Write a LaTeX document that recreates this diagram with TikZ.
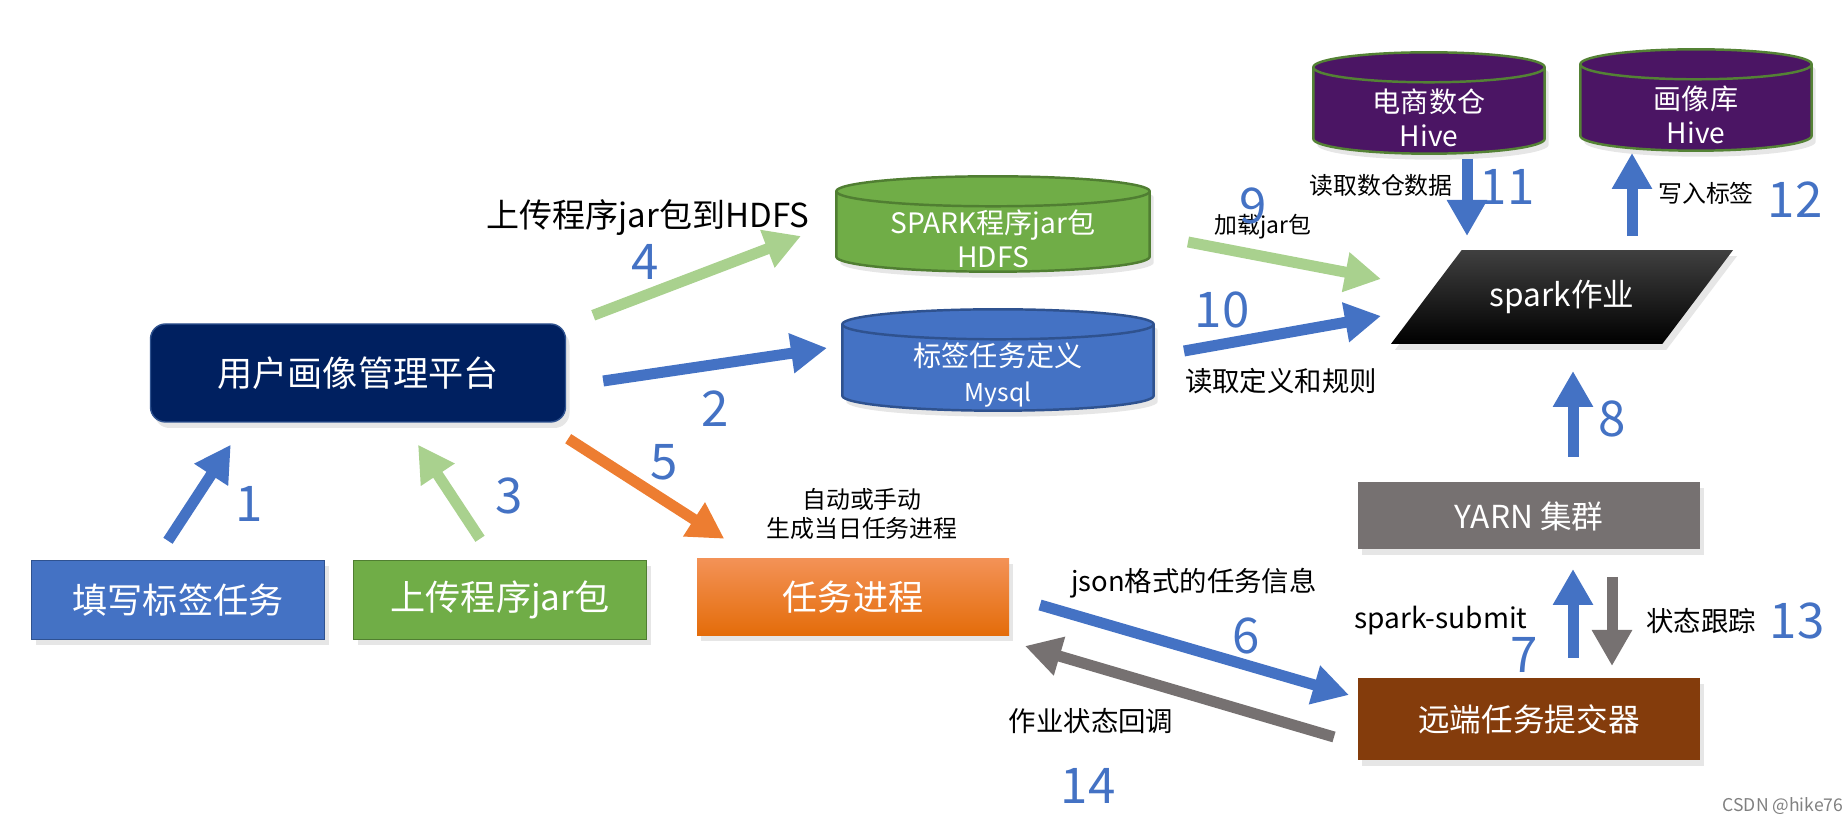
\documentclass[tikz,border=0pt]{standalone}
\usepackage{fontspec}
\setmainfont{Noto Sans CJK SC}
\usepackage{xcolor}
\usetikzlibrary{
  arrows.meta,
  positioning,
  shapes.geometric,
  calc,
  shadows,
  backgrounds,
}
\definecolor{navybox}{HTML}{002060}
\definecolor{navyline}{HTML}{2F528F}
\definecolor{bluebox}{HTML}{4472C4}
\definecolor{blueline}{HTML}{2F528F}
\definecolor{greenbox}{HTML}{70AD47}
\definecolor{greenline}{HTML}{507E32}
\definecolor{lightgreen}{HTML}{A9D18E}
\definecolor{orangearr}{HTML}{ED7D31}
\definecolor{orangetop}{HTML}{F39257}
\definecolor{orangebot}{HTML}{E46C0A}
\definecolor{greybox}{HTML}{767171}
\definecolor{brownbox}{HTML}{843C0C}
\definecolor{purplebox}{HTML}{4B1564}
\definecolor{hiveline}{HTML}{548235}

\begin{document}
\begin{tikzpicture}[
    x=0.1mm, y=-0.1mm,
    box/.style={rectangle, inner sep=0pt, text=white, font=\fontsize{10}{12}\selectfont,
      drop shadow={shadow xshift=0.4mm, shadow yshift=-0.6mm, opacity=0.2}},
    db/.style={rectangle, inner sep=0pt, text=white, align=center,
      font=\fontsize{8}{9.7}\selectfont},
    num/.style={text=bluebox, font=\fontsize{14}{16}\selectfont},
    lbl/.style={font=\fontsize{7.8}{9.6}\selectfont, align=center},
    arr/.style={line width=1.1mm, -{Triangle[length=3.6mm,width=3.8mm]}},
  ]
  \useasboundingbox (0,0) rectangle (1848,820);

  % boxes
  \node[box, fill=navybox, draw=navyline, rounded corners=1.5mm,
    minimum width=41.5mm, minimum height=9.8mm] (plat) at (358,373) {用户画像管理平台};
  \node[box, fill=bluebox, draw=blueline, minimum width=29.3mm, minimum height=7.9mm]
    (tagtask) at (178,600) {填写标签任务};
  \node[box, fill=greenbox, draw=greenline, minimum width=29.3mm, minimum height=7.9mm]
    (jarup) at (500,600) {上传程序jar包};
  \node[box, top color=orangetop, bottom color=orangebot, minimum width=31.2mm,
    minimum height=7.7mm] (taskproc) at (853,597) {任务进程};
  \node[box, fill=greybox, minimum width=34.2mm, minimum height=6.7mm,
    font=\fontsize{9}{11}\selectfont] (yarn) at (1529,516) {YARN 集群};
  \node[box, fill=brownbox, minimum width=34.2mm, minimum height=8.2mm,
    font=\fontsize{9}{11}\selectfont] (submitter) at (1529,719) {远端任务提交器};
  \node[trapezium, trapezium left angle=53, trapezium right angle=127,
    trapezium stretches body, top color=black!75, middle color=black, bottom color=black,
    text=white, inner xsep=0pt, inner ysep=3mm, minimum width=34.2mm, minimum height=9.3mm,
    font=\fontsize{9}{11}\selectfont,
    drop shadow={shadow xshift=0.4mm, shadow yshift=-0.6mm, opacity=0.2}]
    (spark) at (1562,297) {spark作业};

  % databases (text part, cylinder drawn behind)
  \node[db, minimum width=31.2mm, minimum height=6.4mm] (hdfs) at (993,239) {SPARK程序jar包\\HDFS};
  \node[db, minimum width=31mm, minimum height=7mm] (mysql) at (998,375)
    {标签任务定义\\{\fontsize{7}{8}\selectfont Mysql}};
  \node[db, minimum width=23mm, minimum height=7mm] (dwhive) at (1429,118) {电商数仓\\Hive};
  \node[db, minimum width=23mm, minimum height=7mm] (tagdb) at (1696,115) {画像库\\Hive};

  \begin{scope}[on background layer]
    \foreach \cyl/\fc/\dc in {hdfs/greenbox/greenline, mysql/bluebox/blueline,
        dwhive/purplebox/hiveline, tagdb/purplebox/hiveline} {
      \draw[fill=\fc, draw=\dc, line width=0.7pt,
        drop shadow={shadow xshift=0.4mm, shadow yshift=-0.6mm, opacity=0.2}]
        let \p1=($(\cyl.east)-(\cyl.west)$) in
        ($(\cyl.north west)+(0,-15)$) -- ($(\cyl.south west)+(0,-15)$)
        arc[start angle=180, end angle=360, x radius=0.5*\x1, y radius=1.5mm]
        -- ($(\cyl.north east)+(0,-15)$)
        arc[start angle=0, end angle=180, x radius=0.5*\x1, y radius=1.5mm] -- cycle;
      \draw[draw=\dc, line width=0.7pt]
        let \p1=($(\cyl.east)-(\cyl.west)$) in
        ($(\cyl.north west)+(0,-15)$)
        arc[start angle=180, end angle=360, x radius=0.5*\x1, y radius=1.5mm];
    }
  \end{scope}

  % arrows
  \draw[arr, bluebox] ($(tagtask.north)+(-10,-19)$) -- ($(plat.south west)+(81,22)$);
  \draw[arr, lightgreen] ($(jarup.north)+(-20,-21)$) -- ($(plat.south)+(60,22)$);
  \draw[arr, bluebox] ($(plat.east)+(37,8)$) -- ($(mysql.center)+(-171,-27)$);
  \draw[arr, lightgreen] ($(plat.north east)+(27,-8)$) -- ($(hdfs.center)+(-192,-3)$);
  \draw[arr, orangearr] ($(plat.south east)+(2,16)$) -- ($(taskproc.north west)+(28,-19)$);
  \draw[arr, lightgreen] ($(hdfs.center)+(195,3)$) -- ($(spark.center)+(-181,-18)$);
  \draw[arr, bluebox] ($(mysql.center)+(186,-24)$) -- ($(spark.center)+(-181,19)$);
  \draw[arr, bluebox] ($(dwhive.center)+(38,41)$) -- ($(spark.center)+(-95,-61)$);
  \draw[arr, bluebox] ($(spark.center)+(70,-61)$) -- ($(tagdb.center)+(-64,38)$);
  \draw[arr, bluebox] ($(yarn.center)+(44,-59)$) -- ($(spark.center)+(11,74)$);
  \draw[arr, bluebox] ($(submitter.center)+(44,-61)$) -- ($(yarn.center)+(44,53)$);
  \draw[arr, greybox] ($(yarn.center)+(83,61)$) -- ($(submitter.center)+(83,-53)$);
  \draw[arr, bluebox] ($(taskproc.center)+(187,8)$) -- ($(submitter.center)+(-180,-24)$);
  \draw[arr, greybox] ($(submitter.center)+(-195,18)$) -- ($(taskproc.center)+(172,49)$);

  % labels
  \node[font=\fontsize{9.4}{11}\selectfont] (uphdfs) at (648,218) {上传程序jar包到HDFS};
  \node[lbl, font=\fontsize{6.8}{8.3}\selectfont] (auto) at (862,514) {自动或手动\\生成当日任务进程};
  \node[lbl] (json) at (1194,583) {json格式的任务信息};
  \node[lbl] (callback) at (1091,721) {作业状态回调};
  \node[lbl, font=\fontsize{8}{9.6}\selectfont] (sparksub) at (1441,621) {spark-submit};
  \node[lbl] (track) at (1701,621) {状态跟踪};
  \node[lbl, font=\fontsize{6.5}{8}\selectfont] (loadjar) at (1263,227) {加载jar包};
  \node[lbl] (readrule) at (1281,381) {读取定义和规则};
  \node[lbl, font=\fontsize{6.8}{8}\selectfont] (readdw) at (1381,185) {读取数仓数据};
  \node[lbl, font=\fontsize{6.8}{8}\selectfont] (writetag) at (1706,193) {写入标签};

  % step numbers
  \node[num] (n1) at (249,504) {1};
  \node[num] (n2) at (715,409) {2};
  \node[num] (n3) at (509,496) {3};
  \node[num] (n4) at (645,262) {4};
  \node[num] (n5) at (664,462) {5};
  \node[num] (n6) at (1246,636) {6};
  \node[num] (n7) at (1524,655) {7};
  \node[num] (n8) at (1612,419) {8};
  \node[num] (n9) at (1253,206) {9};
  \node[num] (n10) at (1222,310) {10};
  \node[num] (n11) at (1507,187) {11};
  \node[num] (n12) at (1795,200) {12};
  \node[num] (n13) at (1797,621) {13};
  \node[num] (n14) at (1088,786) {14};

  \node[text=gray, font=\fontsize{5}{6}\selectfont] (wm) at (1783,806) {CSDN @hike76};
\end{tikzpicture}
\end{document}
